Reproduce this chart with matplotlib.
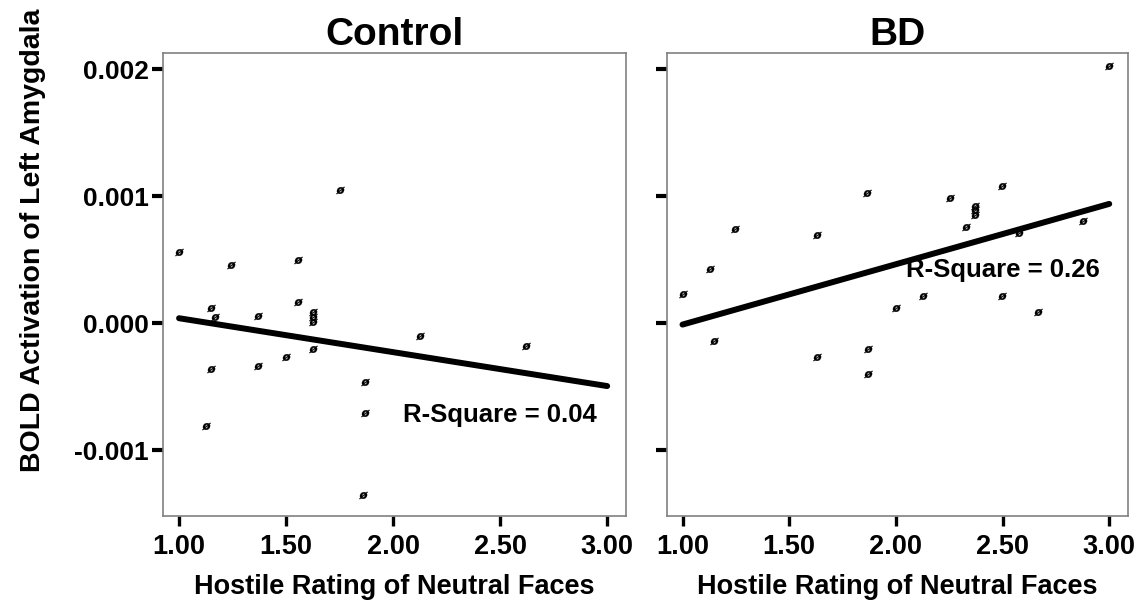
import matplotlib
matplotlib.use("Agg")
import matplotlib.pyplot as plt

plt.rcParams['font.family'] = ['Liberation Sans', 'DejaVu Sans']
plt.rcParams['font.weight'] = 'bold'

# ---- data ----
panels = ["Control", "BD"]

control_x = [1.75, 1.00, 1.245, 1.556, 1.556, 1.148, 1.167, 1.37, 1.626, 1.626, 1.626,
             2.125, 2.62, 1.626, 1.148, 1.37, 1.50, 1.87, 1.87, 1.128, 1.86]
control_y = [0.00105, 0.000565, 0.00046, 0.0005, 0.000165, 0.000118, 0.00005, 0.00006,
             0.00009, 0.00005, 0.00001, -0.0001, -0.000176, -0.000205, -0.000362,
             -0.000336, -0.000268, -0.00046, -0.000704, -0.000809, -0.00135]

bd_x = [3.0, 1.863, 2.497, 2.252, 2.369, 2.369, 2.369, 2.33, 2.878, 2.576, 1.248, 1.629,
        1.128, 1.0, 2.128, 2.497, 2.0, 2.665, 1.146, 1.629, 1.87, 1.87]
bd_y = [0.002026, 0.001024, 0.00108, 0.00099, 0.000926, 0.000892, 0.000853, 0.00076,
        0.000808, 0.000709, 0.000743, 0.000695, 0.000428, 0.00023, 0.000215, 0.000215,
        0.000118, 0.000087, -0.000137, -0.000268, -0.000202, -0.0004]

# fit lines (endpoints at x = 1 and x = 3, as drawn)
fit_x = [1.0, 3.0]
control_fit = [0.00004, -0.000494]
bd_fit = [-0.00001, 0.00094]

r_square = ["R-Square = 0.04", "R-Square = 0.26"]

x_ticks = [1.0, 1.5, 2.0, 2.5, 3.0]
x_ticklabels = ["1.00", "1.50", "2.00", "2.50", "3.00"]
y_ticks = [-0.001, 0.0, 0.001, 0.002]
y_ticklabels = ["-0.001", "0.000", "0.001", "0.002"]

# ---- figure ----
W, H = 1142, 608
fig = plt.figure(figsize=(W / 100, H / 100), dpi=100)

def frac_box(x0, y0, x1, y1):
    return [x0 / W, 1 - y1 / H, (x1 - x0) / W, (y1 - y0) / H]

axes = [fig.add_axes(frac_box(163, 53, 626, 516)),
        fig.add_axes(frac_box(666.5, 53, 1128, 516))]

datasets = [(control_x, control_y, control_fit), (bd_x, bd_y, bd_fit)]
text_pos = [(2.50, -0.00072), (2.50, 0.00042)]

for i, (ax, (xs, ys, fit)) in enumerate(zip(axes, datasets)):
    ax.plot(fit_x, fit, color='black', lw=4.3, solid_capstyle='round', zorder=2)
    ax.plot(xs, ys, linestyle='none', marker='$ø$', markersize=6, color='black',
            markeredgewidth=0.2, zorder=3)
    ax.set_xlim(0.925, 3.088)
    ax.set_ylim(-0.001517, 0.002128)
    ax.set_xticks(x_ticks)
    ax.set_xticklabels(x_ticklabels)
    ax.set_yticks(y_ticks)
    if i == 0:
        ax.set_yticklabels(y_ticklabels)
    else:
        ax.set_yticklabels([])
    ax.tick_params(axis='x', direction='out', length=7, width=2.4, color='black',
                   labelsize=19.5, pad=6)
    ax.tick_params(axis='y', direction='out', length=8, width=3, color='black',
                   labelsize=19, pad=2)
    for lab in ax.get_xticklabels() + ax.get_yticklabels():
        lab.set_fontweight('bold')
    for s in ax.spines.values():
        s.set_color('#808080')
        s.set_linewidth(1.2)
    ax.set_title(panels[i], fontsize=28, fontweight='bold', pad=5)
    ax.set_xlabel("Hostile Rating of Neutral Faces", fontsize=19.5, fontweight='bold',
                  labelpad=10)
    tx, ty = text_pos[i]
    ax.text(tx, ty, r_square[i], fontsize=18.5, fontweight='bold', ha='center',
            va='center', zorder=4)

fig.text(33 / W, 1 - 240 / H, "BOLD Activation of Left Amygdala", rotation=90,
         fontsize=20.5, fontweight='bold', ha='center', va='center')

fig.savefig("out.png", dpi=100)
